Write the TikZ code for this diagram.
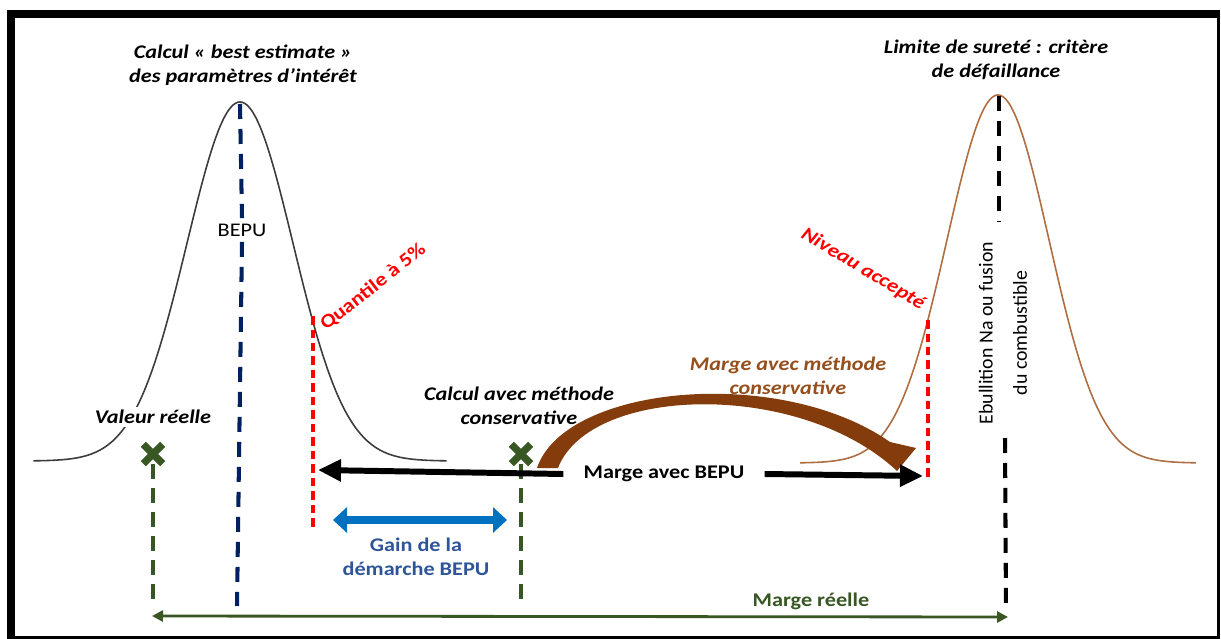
\documentclass[tikz,border=0pt]{standalone}
\usepackage{fontspec}
\setmainfont{Carlito}[FakeStretch=1.15]
\newfontfamily\plainfont{Carlito}
\usetikzlibrary{arrows.meta,shapes.misc,positioning}
\definecolor{navy}{RGB}{0,32,96}
\definecolor{darkgreen}{RGB}{56,87,35}
\definecolor{arrowblue}{RGB}{0,112,192}
\definecolor{textblue}{RGB}{47,85,151}
\definecolor{brownarrow}{RGB}{132,60,12}
\definecolor{browntext}{RGB}{150,78,28}
\definecolor{browncurve}{RGB}{175,110,65}
\definecolor{curvegray}{RGB}{60,60,60}

\begin{document}
\begin{tikzpicture}[x=0.02cm, y=-0.02cm,
    every node/.style={font=\fontsize{11}{13.5}\selectfont, inner sep=1pt},
    lbl/.style={font=\fontsize{11}{13.5}\selectfont\bfseries\itshape, align=center},
    bold/.style={font=\fontsize{11}{13.5}\selectfont\bfseries, align=center},
    xmark/.style={cross out, draw=darkgreen, line width=4.2pt, minimum size=0.24cm, inner sep=0pt},
    gdash/.style={darkgreen, line width=2.2pt, dash pattern=on 0.3cm off 0.18cm},
    rdash/.style={red, line width=2.2pt, dash pattern=on 0.17cm off 0.1cm},
    kdash/.style={line width=2.3pt, dash pattern=on 0.3cm off 0.2cm}]
    \useasboundingbox (0,0) rectangle (1221,639);

    % Frame
    \fill[black] (7,10) rectangle (1220,639);
    \fill[white] (15,18) rectangle (1217,636);

    % Distributions
    \draw[curvegray, line width=0.9pt] plot[domain=-3.9:3.9, samples=90, smooth]
        ({240+53*\x},{461-359*exp(-0.5*(\x)*(\x))});
    \draw[browncurve, line width=0.9pt] plot[domain=-3.88:3.88, samples=90, smooth]
        ({998+51*\x},{463-368*exp(-0.5*(\x)*(\x))});

    % Titles
    \node[lbl] (bestest) at (243,65) {Calcul « best estimate »\\des paramètres d’intérêt};
    \node[lbl] (limite) at (996,60) {Limite de sureté : critère\\de défaillance};

    % BEPU line
    \coordinate (peakL) at (240,104);
    \coordinate (baseL) at (237,606);
    \node[fill=white, inner sep=3pt] (bepu) at (242,230) {BEPU};
    \draw[navy, kdash] (peakL) -- (bepu.north);
    \draw[navy, kdash] (bepu.south) -- (baseL);

    % Failure criterion line
    \coordinate (peakR) at (999,96);
    \coordinate (baseR) at (1006,612);
    \node[rotate=90, align=center, fill=white, inner xsep=10pt, inner ysep=2pt,
        font=\plainfont\fontsize{11.3}{13.5}\selectfont] (ebul) at (1003,333)
        {Ebullition Na ou fusion\\[6pt]du combustible};
    \draw[kdash] (peakR) -- (999,222);
    \draw[kdash] (1005,438) -- (baseR);

    % Quantile and accepted level
    \coordinate (qtop) at (313,316);
    \coordinate (qbot) at (313,527);
    \draw[rdash] (qtop) -- (qbot);
    \node[bold, text=red, rotate=38] (quant) at (373,287) {Quantile à 5\%};
    \coordinate (ntop) at (928,320);
    \coordinate (nbot) at (928,477);
    \draw[rdash] (ntop) -- (nbot);
    \node[lbl, text=red, rotate=-31] (niveau) at (863,269) {Niveau accepté};

    % Brown curved arrow
    \fill[brownarrow] (537,468) .. controls (565,385) and (780,365) .. (890,442)
        -- (916,448) -- (897,471)
        .. controls (800,380) and (590,385) .. (558,468) -- cycle;
    \node[lbl, text=browntext] (mcons) at (788,376) {Marge avec méthode\\conservative};

    % Markers
    \node[xmark] (valx) at (153,454) {};
    \node[xmark] (consx) at (521,454) {};
    \node[lbl, fill=white, inner sep=2pt] (valeur) at (153,417) {Valeur réelle};
    \node[lbl] (calcons) at (519,406) {Calcul avec méthode\\conservative};
    \draw[gdash] (valx.south) -- (153,606);
    \draw[gdash] (consx.south) -- (521,606);

    % Margin with BEPU
    \coordinate (mleft) at (318,470);
    \coordinate (mright) at (923,476);
    \node[bold, inner xsep=0.4cm] (mbepu) at (664,474) {Marge avec BEPU};
    \draw[line width=3.4pt, {Triangle[length=0.46cm,width=0.42cm]}-] (mleft) -- (mbepu.west);
    \draw[line width=3.4pt, -{Triangle[length=0.46cm,width=0.42cm]}] (mbepu.east) -- (mright);

    % Gain
    \coordinate (gleft) at (333,520);
    \coordinate (gright) at (507,520);
    \draw[arrowblue, line width=4.5pt, {Triangle[length=0.28cm,width=0.5cm]}-{Triangle[length=0.28cm,width=0.5cm]}] (gleft) -- (gright);
    \node[bold, text=textblue] (gain) at (416,557) {Gain de la\\démarche BEPU};

    % Real margin
    \coordinate (rleft) at (152,616);
    \coordinate (rright) at (1008,617);
    \draw[darkgreen, line width=1.6pt, {Triangle[length=0.22cm,width=0.22cm]}-{Triangle[length=0.22cm,width=0.22cm]}] (rleft) -- (rright);
    \node[bold, text=darkgreen] (mreelle) at (811,601) {Marge réelle};
\end{tikzpicture}
\end{document}
